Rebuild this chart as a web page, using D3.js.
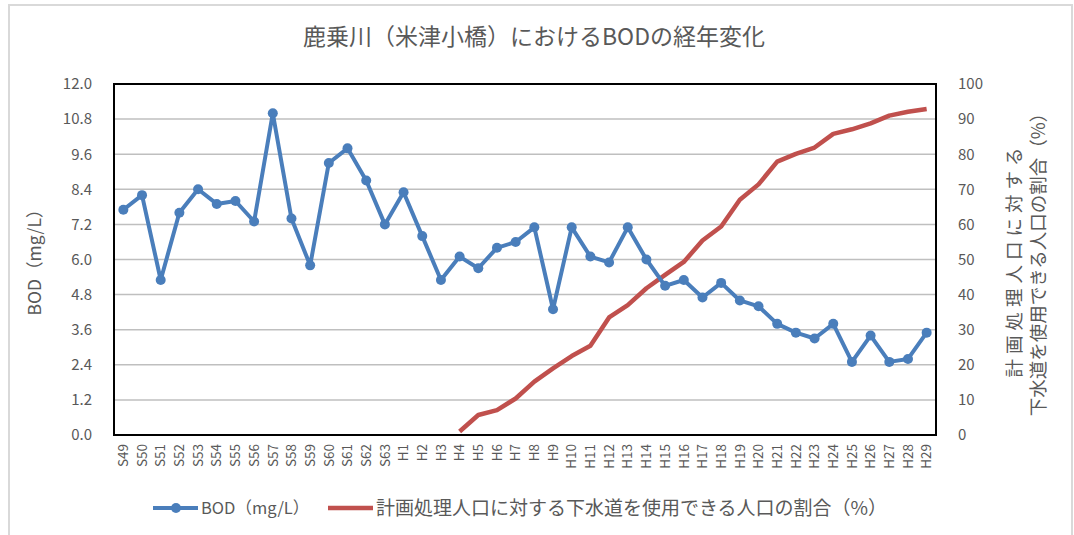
<!DOCTYPE html>
<html>
<head>
<meta charset="utf-8">
<script src="https://cdn.jsdelivr.net/npm/d3@7"></script>
<style>
  body { margin: 0; background: #fff; }
  svg text { font-family: "Noto Sans CJK JP", "Noto Sans", sans-serif; fill: #595959; }
</style>
</head>
<body>
<div id="chart"></div>
<script>
// fiscal years (Showa 49 .. Heisei 29)
const YEARS = ['S49', 'S50', 'S51', 'S52', 'S53', 'S54', 'S55', 'S56', 'S57', 'S58', 'S59', 'S60', 'S61', 'S62', 'S63',
    'H1', 'H2', 'H3', 'H4', 'H5', 'H6', 'H7', 'H8', 'H9', 'H10', 'H11', 'H12', 'H13', 'H14', 'H15',
    'H16', 'H17', 'H18', 'H19', 'H20', 'H21', 'H22', 'H23', 'H24', 'H25', 'H26', 'H27', 'H28', 'H29'];

// BOD (mg/L), left axis
const BOD = [7.7, 8.2, 5.3, 7.6, 8.4, 7.9, 8.0, 7.3, 11.0, 7.4, 5.8, 9.3, 9.8, 8.7, 7.2,
    8.3, 6.8, 5.3, 6.1, 5.7, 6.4, 6.6, 7.1, 4.3, 7.1, 6.1, 5.9, 7.1, 6.0, 5.1,
    5.3, 4.7, 5.2, 4.6, 4.4, 3.8, 3.5, 3.3, 3.8, 2.5, 3.4, 2.5, 2.6, 3.5];

// sewer coverage (%), right axis - starts at H4
const SEWER = [null, null, null, null, null, null, null, null, null, null, null, null, null, null, null,
    null, null, null, 1, 5.7, 7.1, 10.4, 15.2, 19.0, 22.5, 25.4, 33.5, 37.0, 41.8, 45.6,
    49.3, 55.4, 59.4, 67.0, 71.4, 77.9, 80.1, 81.9, 85.8, 87.1, 88.8, 91.0, 92.1, 92.9];

const LEFT_TICKS = [0, 1.2, 2.4, 3.6, 4.8, 6.0, 7.2, 8.4, 9.6, 10.8, 12.0];
const RIGHT_TICKS = [0, 10, 20, 30, 40, 50, 60, 70, 80, 90, 100];

const TITLE = '鹿乗川（米津小橋）におけるBODの経年変化';
const LABEL_BOD = 'BOD（mg/L）';
const LABEL_SEWER = '計画処理人口に対する下水道を使用できる人口の割合（%）';

const BLUE = '#4a7ebb';
const RED = '#c0504d';

const W = 1074, H = 535;
let margin = {top: 84, right: 138, bottom: 100, left: 114};
let width = W - margin.left - margin.right;
let height = H - margin.top - margin.bottom;

let svg = d3.select('#chart').append('svg')
    .attr('width', W)
    .attr('height', H);

// outer frame
svg.append('rect')
    .attr('x', 9).attr('y', 5)
    .attr('width', 1063).attr('height', 540)
    .attr('fill', 'none')
    .attr('stroke', '#d9d9d9')
    .attr('stroke-width', 2);

svg.append('text')
    .attr('x', 534).attr('y', 45)
    .attr('text-anchor', 'middle')
    .style('font-size', '23px')
    .text(TITLE);

let g = svg.append('g')
    .attr('transform', 'translate(' + margin.left + ',' + margin.top + ')');

let x = d3.scaleBand().domain(YEARS).range([0, width]);
let yL = d3.scaleLinear().domain([0, 12]).range([height, 0]);
let yR = d3.scaleLinear().domain([0, 100]).range([height, 0]);

// gridlines
g.append('g')
    .selectAll('line')
    .data(LEFT_TICKS)
    .join('line')
    .attr('x1', 0).attr('x2', width)
    .attr('y1', d => yL(d)).attr('y2', d => yL(d))
    .attr('stroke', '#bfbfbf')
    .attr('stroke-width', 1.5);

// left axis
let axL = g.append('g')
    .call(d3.axisLeft(yL).tickValues(LEFT_TICKS).tickFormat(d3.format('.1f')).tickSize(0).tickPadding(22));
axL.select('.domain').remove();
axL.selectAll('text').style('font-size', '15px').attr('fill', '#595959');

// right axis
let axR = g.append('g')
    .attr('transform', 'translate(' + width + ',0)')
    .call(d3.axisRight(yR).tickValues(RIGHT_TICKS).tickSize(0).tickPadding(22));
axR.select('.domain').remove();
axR.selectAll('text').style('font-size', '15px').attr('fill', '#595959').attr('text-anchor', 'start');

// bottom axis, labels rotated
let axB = g.append('g')
    .attr('transform', 'translate(0,' + height + ')')
    .call(d3.axisBottom(x).tickSize(0));
axB.select('.domain').remove();
axB.selectAll('text')
    .style('font-size', '13.5px')
    .attr('fill', '#595959')
    .attr('text-anchor', 'end')
    .attr('transform', 'rotate(-90)')
    .attr('x', -9)
    .attr('y', 0)
    .attr('dy', '0.35em');

// plot frame
g.append('rect')
    .attr('width', width).attr('height', height)
    .attr('fill', 'none')
    .attr('stroke', '#000')
    .attr('stroke-width', 2);

let cx = d => x(d) + x.bandwidth() / 2;

// sewer line
let sewerLine = d3.line()
    .defined(d => d.v !== null)
    .x(d => cx(d.year))
    .y(d => yR(d.v));
g.append('path')
    .datum(YEARS.map((year, i) => ({year: year, v: SEWER[i]})))
    .attr('fill', 'none')
    .attr('stroke', RED)
    .attr('stroke-width', 4.5)
    .attr('stroke-linejoin', 'round')
    .attr('d', sewerLine);

// BOD line + markers
let bodData = YEARS.map((year, i) => ({year: year, v: BOD[i]}));
g.append('path')
    .datum(bodData)
    .attr('fill', 'none')
    .attr('stroke', BLUE)
    .attr('stroke-width', 4)
    .attr('stroke-linejoin', 'round')
    .attr('d', d3.line().x(d => cx(d.year)).y(d => yL(d.v)));
g.append('g')
    .selectAll('circle')
    .data(bodData)
    .join('circle')
    .attr('cx', d => cx(d.year))
    .attr('cy', d => yL(d.v))
    .attr('r', 5)
    .attr('fill', BLUE);

// axis titles
svg.append('text')
    .attr('transform', 'translate(41,258) rotate(-90)')
    .attr('text-anchor', 'middle')
    .style('font-size', '17.5px')
    .text(LABEL_BOD);

let rt = svg.append('text')
    .attr('transform', 'translate(1021,260) rotate(-90)')
    .attr('text-anchor', 'middle')
    .style('font-size', '18.5px');
rt.append('tspan').attr('x', 0).attr('dy', 0)
    .style('letter-spacing', '5px')
    .text(LABEL_SEWER.slice(0, 10));
rt.append('tspan').attr('x', 0).attr('dy', 24).text(LABEL_SEWER.slice(10));

// legend
let lg = svg.append('g').attr('transform', 'translate(0,508)');
lg.append('line').attr('x1', 153).attr('x2', 198).attr('stroke', BLUE).attr('stroke-width', 4);
lg.append('circle').attr('cx', 176).attr('r', 5).attr('fill', BLUE);
lg.append('text').attr('x', 201).attr('dy', '0.35em').style('font-size', '16.5px').text(LABEL_BOD);
lg.append('line').attr('x1', 328).attr('x2', 373).attr('stroke', RED).attr('stroke-width', 4.5);
lg.append('text').attr('x', 376).attr('dy', '0.35em').style('font-size', '19px').text(LABEL_SEWER);
</script>
</body>
</html>
